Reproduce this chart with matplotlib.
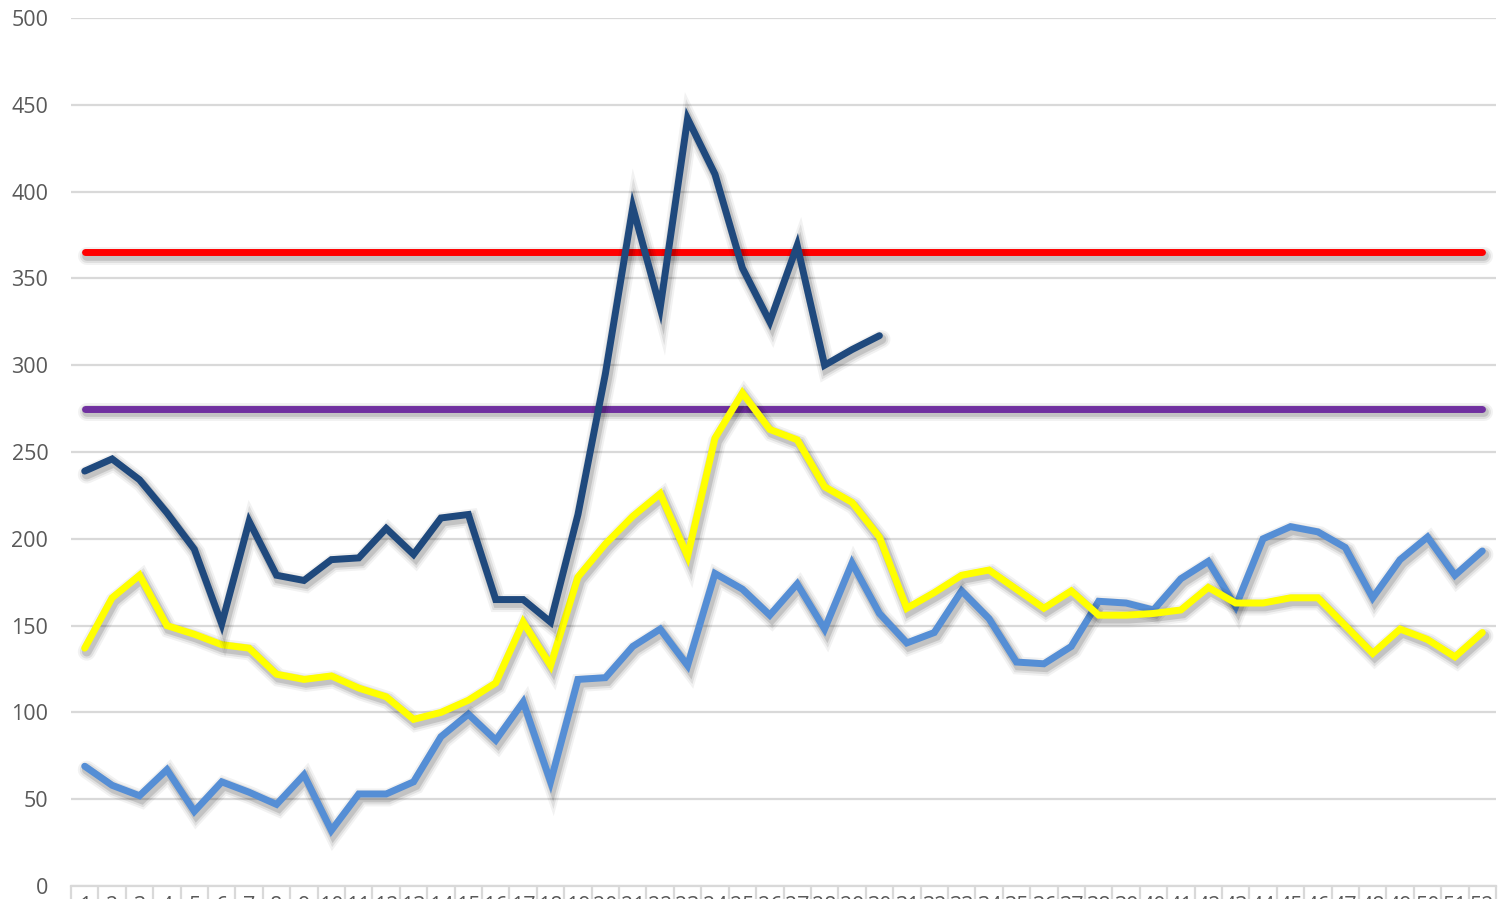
import numpy as np
import matplotlib
matplotlib.use("Agg")
import matplotlib.pyplot as plt
import matplotlib.patheffects as pe

plt.rcParams['font.family'] = ['Open Sans', 'DejaVu Sans']

# week numbers on the category axis
weeks = list(range(1, 53))

# dark blue series (only first 30 weeks)
dark = [239, 246, 234, 215, 194, 151, 210, 179, 176, 188, 189, 206, 191, 212, 214,
        165, 165, 152, 214, 295, 391, 333, 442, 410, 356, 325, 369, 300, 309, 317]

# yellow series
yellow = [137, 166, 179, 150, 145, 139, 137, 122, 119, 121, 114, 109, 96, 100, 107,
          117, 152, 127, 178, 197, 213, 226, 190, 258, 284, 263, 257, 230, 221, 201,
          160, 169, 179, 182, 171, 160, 170, 156, 156, 157, 159, 172, 163, 163, 166,
          166, 150, 134, 148, 142, 132, 146]

# light blue series
light = [69, 58, 52, 67, 43, 60, 54, 47, 64, 32, 53, 53, 60, 86, 99,
         84, 106, 60, 119, 120, 138, 148, 127, 180, 171, 156, 174, 148, 186, 157,
         140, 146, 170, 154, 129, 128, 138, 164, 163, 159, 177, 187, 161, 200, 207,
         204, 195, 166, 188, 201, 179, 193]

# reference levels
upper_level = 365
lower_level = 275

fig = plt.figure(figsize=(15, 8.99), dpi=100)
ax = fig.add_axes([71 / 1500, 13 / 899, 1425 / 1500, 868 / 899])

def shadow(lw):
    # soft blurred drop shadow, built from a few translucent strokes
    fx = []
    for extra, a in [(8, 0.05), (5, 0.08), (2, 0.12)]:
        fx.append(pe.SimpleLineShadow(offset=(1.5, -2.5), shadow_color='#000000',
                                      alpha=a, linewidth=lw + extra))
    fx.append(pe.Normal())
    return fx

LW = 5

# horizontal limit lines
ax.plot([weeks[0], weeks[-1]], [upper_level] * 2, color='#FF0000', lw=LW,
        solid_capstyle='round', path_effects=shadow(LW), zorder=3)
ax.plot([weeks[0], weeks[-1]], [lower_level] * 2, color='#7030A0', lw=LW,
        solid_capstyle='round', path_effects=shadow(LW), zorder=3)

ax.plot(weeks, light, color='#558ED5', lw=LW, solid_joinstyle='miter',
        solid_capstyle='round', path_effects=shadow(LW), zorder=4)
ax.plot(weeks, yellow, color='#FFFF00', lw=LW, solid_joinstyle='miter',
        solid_capstyle='round', path_effects=shadow(LW), zorder=5)
ax.plot(weeks[:len(dark)], dark, color='#1F497D', lw=LW, solid_joinstyle='miter',
        solid_capstyle='round', path_effects=shadow(LW), zorder=6)

ax.set_xlim(0.5, 52.5)
ax.set_ylim(0, 500)
ax.set_yticks(np.arange(0, 501, 50))
ax.yaxis.grid(True, color='#D9D9D9', lw=1.6)
ax.set_axisbelow(True)

for s in ['top', 'right', 'left']:
    ax.spines[s].set_visible(False)
ax.spines['bottom'].set_color('#D9D9D9')
ax.spines['bottom'].set_linewidth(1.6)

# week labels sit partly below the picture edge, as in the source chart
ax.set_xticks(weeks)
ax.set_xticklabels([str(w) for w in weeks])
ax.set_xticks(np.arange(0.5, 53, 1), minor=True)
ax.tick_params(axis='x', which='major', length=0, pad=7, labelsize=15.5, labelcolor='#595959')
ax.tick_params(axis='x', which='minor', length=12, width=1.6, color='#D9D9D9')
ax.tick_params(axis='y', length=0, pad=16.3, labelsize=15.5, labelcolor='#595959')

fig.savefig('out.png', dpi=100)
